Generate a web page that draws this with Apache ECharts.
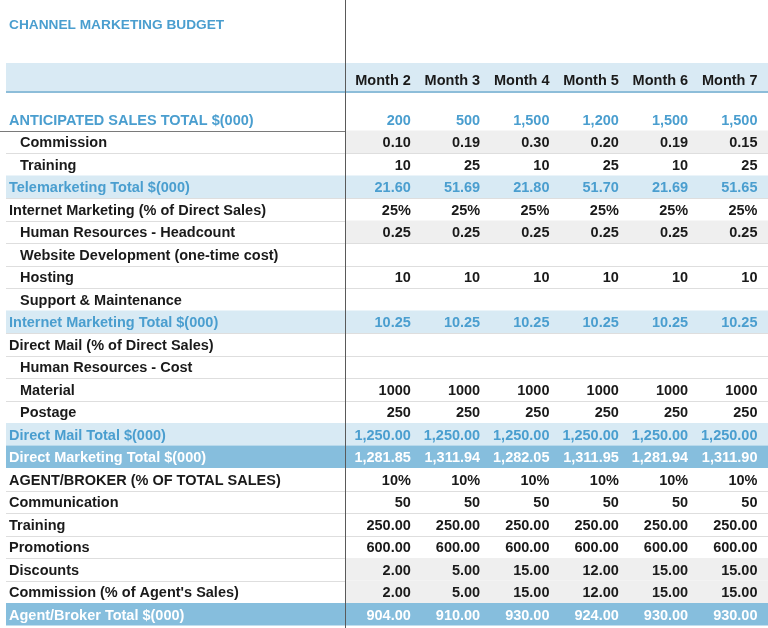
<!DOCTYPE html>
<html><head><meta charset="utf-8">
<script src="https://cdn.jsdelivr.net/npm/echarts@6/dist/echarts.min.js"></script>
<style>html,body{margin:0;padding:0;background:#fff}#c{width:768px;height:628px}</style>
</head><body><div id="c"></div>
<script>
const chartTitle = 'CHANNEL MARKETING BUDGET';
const months = ['Month 2','Month 3','Month 4','Month 5','Month 6','Month 7'];
const rowLabels = [
  'ANTICIPATED SALES TOTAL $(000)',
  'Commission',
  'Training',
  'Telemarketing Total $(000)',
  'Internet Marketing (% of Direct Sales)',
  'Human Resources - Headcount',
  'Website Development (one-time cost)',
  'Hosting',
  'Support & Maintenance',
  'Internet Marketing Total $(000)',
  'Direct Mail (% of Direct Sales)',
  'Human Resources - Cost',
  'Material',
  'Postage',
  'Direct Mail Total $(000)',
  'Direct Marketing Total $(000)',
  'AGENT/BROKER (% OF TOTAL SALES)',
  'Communication',
  'Training',
  'Promotions',
  'Discounts',
  "Commission (% of Agent's Sales)",
  'Agent/Broker Total $(000)'
];
const month2 = [200, 0.10, 10, 21.60, 0.25, 0.25, null, 10, null, 10.25, null, null, 1000, 250, 1250.00, 1281.85, 0.10, 50, 250, 600, 2, 2, 904];
const month3 = [500, 0.19, 25, 51.69, 0.25, 0.25, null, 10, null, 10.25, null, null, 1000, 250, 1250.00, 1311.94, 0.10, 50, 250, 600, 5, 5, 910];
const month4 = [1500, 0.30, 10, 21.80, 0.25, 0.25, null, 10, null, 10.25, null, null, 1000, 250, 1250.00, 1282.05, 0.10, 50, 250, 600, 15, 15, 930];
const month5 = [1200, 0.20, 25, 51.70, 0.25, 0.25, null, 10, null, 10.25, null, null, 1000, 250, 1250.00, 1311.95, 0.10, 50, 250, 600, 12, 12, 924];
const month6 = [1500, 0.19, 10, 21.69, 0.25, 0.25, null, 10, null, 10.25, null, null, 1000, 250, 1250.00, 1281.94, 0.10, 50, 250, 600, 15, 15, 930];
const month7 = [1500, 0.15, 25, 51.65, 0.25, 0.25, null, 10, null, 10.25, null, null, 1000, 250, 1250.00, 1311.90, 0.10, 50, 250, 600, 15, 15, 930];

// styling / formatting per row (not data)
const rowKind = ['title','sub','sub','tot','head','sub','sub','sub','sub','tot','head','sub','sub','sub','tot','grand','head','head','head','head','head','head','grand'];
const rowFormat = ['c0','f2','i','f2','pct','f2','','i','','f2','','','i','i','c2','c2','pct','i','f2','f2','f2','f2','c2'];
const shadedRows = [1,5,20,21];

const BLUE = '#4a9ecf', BLACK = '#1a1a1a';
const FAM = '"Liberation Sans", Arial, sans-serif';
const FS = 14.5;
const FONT = 'bold ' + FS + 'px ' + FAM;

function fmt(v, f){
  if (v == null || isNaN(v)) return '';
  switch(f){
    case 'c0': return v.toLocaleString('en-US',{maximumFractionDigits:0});
    case 'i': return String(Math.round(v));
    case 'f2': return v.toFixed(2);
    case 'c2': return v.toLocaleString('en-US',{minimumFractionDigits:2,maximumFractionDigits:2});
    case 'pct': return Math.round(v*100)+'%';
  }
  return '';
}
function textColor(k){ return k==='grand' ? '#ffffff' : (k==='tot'||k==='title') ? BLUE : BLACK; }

const columns = [month2, month3, month4, month5, month6, month7];
const cellData = [];
columns.forEach((arr, c) => arr.forEach((v, r) => { if (v != null) cellData.push([c, r, v]); }));
const rowData = rowLabels.map((_, r) => [0, r]);

const rs = (color, extra) => Object.assign({color: color, fontSize: FS, fontWeight: 'bold', fontFamily: FAM}, extra || {});

const chart = echarts.init(document.getElementById('c'), null, {renderer:'canvas'});
chart.setOption({
  animation: false,
  backgroundColor: '#fff',
  title: {
    text: chartTitle, left: 9, top: 18.5, padding: 0,
    textStyle: {color: BLUE, fontSize: 13.7, fontWeight: 'bold', fontFamily: FAM}
  },
  grid: {left: 345, right: 7, top: 108, height: 517.5, containLabel: false},
  xAxis: {
    type: 'category', data: months, position: 'top', z: 5,
    axisLine: {show: false}, axisTick: {show: false}, splitLine: {show: false},
    axisLabel: {interval: 0, margin: 20, align: 'center', padding: [0,0,0,6.8],
      color: BLACK, fontSize: FS, fontWeight: 'bold', fontFamily: FAM}
  },
  yAxis: {
    type: 'category', data: rowLabels, inverse: true, z: 5,
    axisLine: {show: false}, axisTick: {show: false}, splitLine: {show: false},
    axisLabel: {
      interval: 0, align: 'left', margin: 336, padding: [3,0,0,0],
      formatter: (val, idx) => '{' + rowKind[idx] + '|' + val + '}',
      rich: {
        title: rs(BLUE),
        sub: rs(BLACK, {padding: [0,0,0,11]}),
        head: rs(BLACK),
        tot: rs(BLUE),
        grand: rs('#ffffff')
      }
    }
  },
  graphic: [
    {type: 'rect', z: 0, shape: {x: 6, y: 63, width: 762, height: 29}, style: {fill: '#d9eaf4'}},
    {type: 'line', z: 0, shape: {x1: 6, y1: 92, x2: 768, y2: 92}, style: {stroke: '#8dbdd9', lineWidth: 2}},
    {type: 'line', z: 100, shape: {x1: 345.5, y1: 0, x2: 345.5, y2: 628}, style: {stroke: '#5a5a5a', lineWidth: 1}}
  ],
  series: [
    {
      type: 'custom', name: 'rows', clip: false, z: 1, silent: true,
      data: rowData,
      renderItem: (params, api) => {
        const r = api.value(1);
        const p = api.coord([0, r]);
        const s = api.size([1, 1]);
        const W = api.getWidth();
        const top = p[1] - s[1]/2, bot = p[1] + s[1]/2;
        const gx = p[0] - s[0]/2;
        const kids = [];
        const k = rowKind[r];
        if (k === 'tot') kids.push({type:'rect', shape:{x:6, y:top, width:W-6, height:s[1]}, style:{fill:'#d8eaf4'}});
        if (k === 'grand') kids.push({type:'rect', shape:{x:6, y:top, width:W-6, height:s[1]}, style:{fill:'#86bedd'}});
        if (shadedRows.indexOf(r) >= 0) kids.push({type:'rect', shape:{x:gx, y:top, width:W-gx, height:s[1]}, style:{fill:'#efefef'}});
        const ly = Math.round(bot) + 0.5;
        if (r === 0) kids.push({type:'line', shape:{x1:0, y1:ly, x2:W, y2:ly}, style:{stroke:'#7a7a7a', lineWidth:1}});
        else if (k !== 'grand' && rowKind[r+1] !== 'grand' && r < rowLabels.length-1)
          kids.push({type:'line', shape:{x1:6, y1:ly, x2:W, y2:ly}, style:{stroke:'#dedede', lineWidth:1}});
        return {type:'group', children: kids};
      }
    },
    {
      type: 'custom', name: 'cells', clip: false, z: 3, silent: true,
      data: cellData,
      renderItem: (params, api) => {
        const c = api.value(0), r = api.value(1), v = api.value(2);
        const p = api.coord([c, r]);
        const s = api.size([1, 1]);
        return {type:'text', x: p[0] + s[0]/2 - 3.5, y: p[1] + 1.5,
          style:{text: fmt(v, rowFormat[r]), align:'right', verticalAlign:'middle', font: FONT, fill: textColor(rowKind[r])}};
      }
    }
  ]
});
</script></body></html>
